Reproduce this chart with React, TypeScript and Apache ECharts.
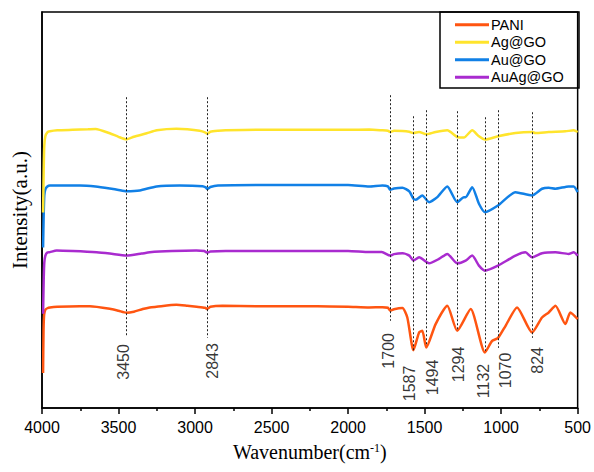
import React, { useEffect, useRef } from "react";
import * as echarts from "echarts";

const seriesNames = ["PANI", "Ag@GO", "Au@GO", "AuAg@GO"];
const seriesColors = ["#FF5511", "#FFE42C", "#1180E6", "#A92BCF"];

// [wavenumber (cm-1), intensity (a.u.)]
const paniData = [
  [3993, 35], [3990, 77], [3986, 93], [3978, 98], [3965, 99.5], [3948, 100.3], [3900, 101],
  [3752, 101.5], [3687, 101.5], [3557, 99], [3500, 97], [3448, 95], [3400, 96], [3342, 98.7],
  [3296, 100.3], [3252, 101], [3122, 103], [3050, 102], [2990, 101], [2935, 100], [2920, 98.7],
  [2900, 101], [2820, 102], [2600, 101.5], [2400, 101.5], [2200, 101.5], [2000, 101],
  [1862, 100.3], [1776, 100.5], [1740, 100], [1725, 97], [1700, 98.5], [1645, 99.7], [1613, 90.3],
  [1573, 57.7], [1536, 75.3], [1515, 77], [1489, 60.3], [1428, 83.7], [1352, 102], [1287, 77],
  [1199, 98.7], [1106, 55.3], [1059, 67], [1021, 69.7], [971, 82], [896, 100.3], [798, 75.3],
  [733, 90.3], [689, 95.3], [645, 102], [580, 83.7], [548, 95.3], [500, 88.7],
];

const agGoData = [
  [3993, 195], [3989, 237], [3985, 262], [3978, 271], [3965, 275], [3948, 276], [3900, 277],
  [3800, 277.5], [3700, 278], [3650, 278.3], [3557, 274], [3500, 270.5], [3448, 268],
  [3400, 270.5], [3316, 274], [3250, 277], [3122, 278.5], [3050, 278], [2970, 276.5],
  [2935, 275], [2920, 273.5], [2900, 275.5], [2850, 276.5], [2800, 277], [2600, 277.5],
  [2400, 277.5], [2200, 277.5], [2000, 277.5], [1862, 277.7], [1780, 277], [1740, 276.5],
  [1725, 275.3], [1700, 276.5], [1645, 276.3], [1600, 275.5], [1573, 274.3], [1536, 275.3],
  [1489, 273], [1428, 275.3], [1352, 277], [1287, 270.3], [1243, 269.7], [1189, 277],
  [1145, 271], [1106, 267.7], [1021, 271], [906, 274.3], [798, 275.3], [776, 274.3],
  [689, 275.3], [580, 276], [526, 277], [500, 275.3],
];

const auGoData = [
  [3993, 160], [3989, 192], [3985, 212], [3978, 218], [3965, 221], [3948, 222], [3850, 222],
  [3752, 222], [3650, 221], [3557, 219], [3500, 217.5], [3448, 216.3], [3361, 217],
  [3252, 221], [3101, 222], [2951, 221.3], [2930, 220], [2920, 218.5], [2900, 220.5],
  [2850, 222], [2600, 222.5], [2400, 222.5], [2200, 222.5], [2000, 222.5], [1862, 221],
  [1776, 222], [1740, 221], [1725, 217.7], [1700, 219], [1645, 219.7], [1600, 216],
  [1573, 208.7], [1558, 207.7], [1515, 212], [1471, 205.3], [1417, 210.3], [1352, 221],
  [1287, 205.3], [1243, 210.3], [1232, 210.3], [1189, 220.3], [1145, 203.7], [1106, 195.3],
  [1021, 202], [906, 215.3], [798, 212], [733, 218.7], [689, 219.7], [645, 218.7],
  [559, 221], [526, 221], [500, 215.3],
];

const auAgGoData = [
  [3993, 94], [3989, 127], [3985, 145], [3978, 152], [3965, 155], [3948, 155.5], [3904, 157],
  [3800, 156.5], [3643, 155.3], [3557, 154], [3448, 152], [3350, 154], [3296, 155.3],
  [3150, 156.5], [2992, 157], [2940, 156.5], [2920, 155], [2900, 156], [2800, 156.5],
  [2600, 156.5], [2400, 156.5], [2200, 156.5], [2000, 156.5], [1862, 155.5], [1780, 155.5],
  [1725, 152], [1700, 153.5], [1645, 154.3], [1600, 152], [1573, 147], [1536, 150.3],
  [1471, 144.3], [1406, 148.7], [1352, 153.7], [1287, 144.3], [1232, 147], [1189, 152],
  [1145, 142], [1106, 137], [1021, 142], [906, 152], [841, 155.3], [798, 150.3],
  [733, 154.3], [645, 155.3], [559, 153.7], [526, 155.3], [500, 152],
];

// peak annotations
const peakLabels = ["3450", "2843", "1700", "1587", "1494", "1294", "1132", "1070", "824"];
const peakLinePos = [3448, 2920, 1725, 1573, 1489, 1287, 1106, 1021, 798];
const peakLineTop = [310, 310, 312, 291, 297, 296, 290, 297, 295];
const peakLineBottom = [72, 70, 87, 57, 62, 77, 57, 60, 70];
const peakLabelX = [3466, 2883, 1736, 1597, 1448, 1280, 1118, 971, 765];
const peakLabelY = [46, 47, 57, 24.5, 30.5, 43.5, 27, 37.5, 47.5];

const xTicks = { min: 500, max: 4000, interval: 500 };

export default function App() {
  const ref = useRef<HTMLDivElement>(null);
  useEffect(() => {
    if (!ref.current) return;
    const chart = echarts.init(ref.current, null, { renderer: "svg" });
    const allData = [paniData, agGoData, auGoData, auAgGoData];
    const zs = [2, 4, 3, 3];
    const lineSeries = seriesNames.map((name, i) => ({
      name,
      type: "line",
      data: allData[i],
      showSymbol: false,
      smooth: 0.2,
      z: zs[i],
      color: seriesColors[i],
      lineStyle: { width: 2.5, color: seriesColors[i] },
    }));
    const markLineData = peakLinePos.map((w, i) => [
      { coord: [w, peakLineTop[i]] },
      { coord: [w, peakLineBottom[i]] },
    ]);
    chart.setOption({
      animation: false,
      backgroundColor: "#fff",
      grid: {
        left: 42,
        right: 14,
        top: 12,
        bottom: 64,
        show: true,
        borderColor: "#000",
        borderWidth: 1.5,
        backgroundColor: "transparent",
      },
      legend: {
        data: seriesNames,
        orient: "vertical",
        left: 455,
        top: 16,
        padding: 0,
        itemGap: 0,
        itemWidth: 34,
        itemHeight: 3,
        icon: "rect",
        textStyle: {
          fontFamily: "Liberation Sans, Arial, sans-serif",
          fontSize: 14.5,
          color: "#000",
          lineHeight: 17.5,
          padding: [0, 0, 0, -3],
        },
      },
      xAxis: {
        type: "value",
        inverse: true,
        min: xTicks.min,
        max: xTicks.max,
        interval: xTicks.interval,
        name: "Wavenumber(cm{sup|-1})",
        nameLocation: "middle",
        nameGap: 34,
        nameTextStyle: {
          fontFamily: "Liberation Serif, Times New Roman, serif",
          fontSize: 20,
          color: "#000",
          rich: {
            sup: {
              fontFamily: "Liberation Serif, Times New Roman, serif",
              fontSize: 12,
              color: "#000",
              verticalAlign: "top",
            },
          },
        },
        axisLine: { show: true, lineStyle: { color: "#000", width: 1.5 } },
        axisTick: { show: true, length: 6, lineStyle: { color: "#000", width: 1.5 } },
        minorTick: { show: true, splitNumber: 2, length: 3, lineStyle: { color: "#000", width: 1.5 } },
        splitLine: { show: false },
        minorSplitLine: { show: false },
        axisLabel: {
          margin: 11,
          fontFamily: "Liberation Sans, Arial, sans-serif",
          fontSize: 16,
          color: "#000",
          formatter: (v: number) => String(v),
        },
      },
      yAxis: {
        type: "value",
        min: 0,
        max: 395,
        name: "Intensity(a.u.)",
        nameLocation: "middle",
        nameGap: 12,
        nameTextStyle: {
          fontFamily: "Liberation Serif, Times New Roman, serif",
          fontSize: 21,
          color: "#000",
        },
        axisLine: { show: true, lineStyle: { color: "#000", width: 1.5 } },
        axisTick: { show: false },
        axisLabel: { show: false },
        splitLine: { show: false },
      },
      graphic: [
        {
          type: "rect",
          shape: { x: 440, y: 12, width: 139, height: 76 },
          style: { fill: "none", stroke: "#000", lineWidth: 1.5 },
          z: 1,
        },
      ],
      series: [
        ...lineSeries,
        {
          name: "peakLines",
          type: "line",
          data: [],
          silent: true,
          markLine: {
            silent: true,
            symbol: "none",
            label: { show: false },
            lineStyle: { color: "#222", width: 1, type: [2, 2] },
            data: markLineData,
          },
        },
        {
          name: "peakLabels",
          type: "scatter",
          silent: true,
          symbolSize: 0,
          data: peakLabelX.map((w, i) => [w, peakLabelY[i], peakLabels[i]]),
          label: {
            show: true,
            position: "inside",
            rotate: 90,
            formatter: (p: any) => p.data[2],
            fontFamily: "Liberation Sans, Arial, sans-serif",
            fontSize: 16,
            color: "#000",
          },
        },
      ],
    });
    return () => chart.dispose();
  }, []);
  return (
    <div
      ref={ref}
      style={{ position: "fixed", left: 0, top: 0, width: 594, height: 472, background: "#fff" }}
    />
  );
}
